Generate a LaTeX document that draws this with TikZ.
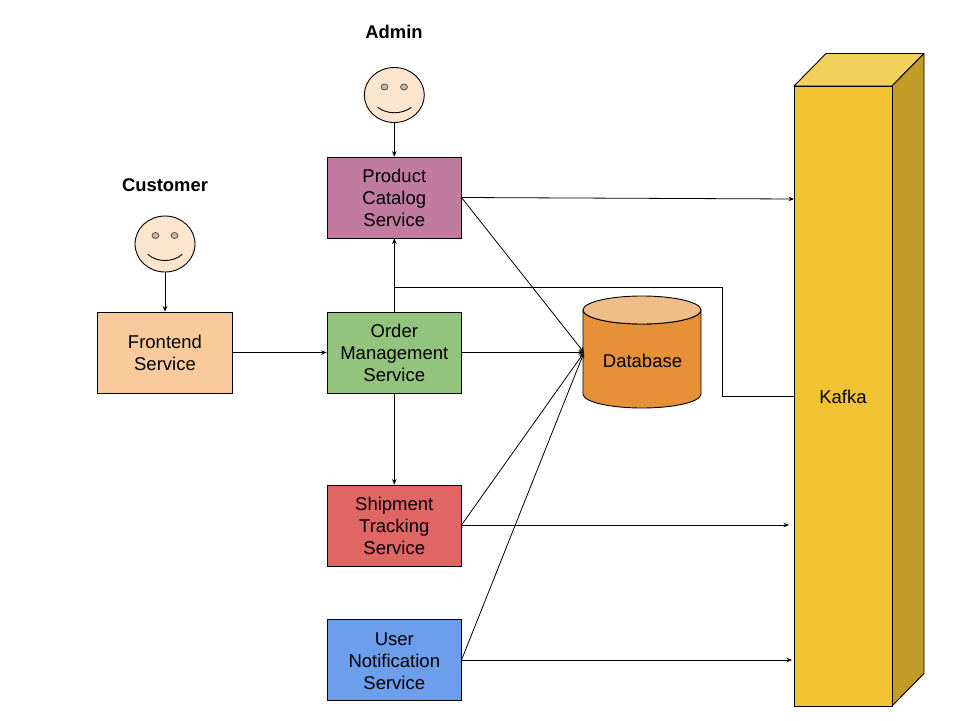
\documentclass[tikz,border=0pt]{standalone}
\usepackage{fontspec}
\setmainfont{Liberation Sans}
\usetikzlibrary{arrows.meta,shapes.geometric,calc}
\definecolor{cFront}{HTML}{F9CB9C}
\definecolor{cOrder}{HTML}{93C47D}
\definecolor{cProd}{HTML}{C27BA0}
\definecolor{cShip}{HTML}{E06666}
\definecolor{cUser}{HTML}{6D9EEB}
\definecolor{cKafka}{HTML}{F1C232}
\definecolor{cKafkaTop}{HTML}{F3D05C}
\definecolor{cKafkaSide}{HTML}{C19B28}
\definecolor{cDb}{HTML}{E69138}
\definecolor{cDbTop}{HTML}{EEBD88}
\definecolor{cFace}{HTML}{FCE5CD}
\definecolor{cEye}{HTML}{C9B7A4}
\tikzset{
  x=1pt,y=-1pt,
  svc/.style={draw=black,line width=0.8pt,minimum width=134.5pt,minimum height=81pt,inner sep=0pt},
  svctext/.style={inner sep=0pt,align=center,font=\fontsize{18.5}{22}\selectfont},
  face/.style={draw=black,fill=cFace,line width=0.9pt,shape=ellipse,inner sep=0pt,minimum width=60pt,minimum height=55pt},
  eye/.style={draw=black!80,fill=cEye,line width=0.6pt,shape=ellipse,minimum width=7pt,minimum height=6pt,inner sep=0pt},
  smile/.style={draw=black,line width=0.9pt,line cap=round},
  actor/.style={font=\fontsize{18.4}{22}\selectfont\bfseries},
  solid3d/.style={draw=black,line width=0.9pt,line join=round},
  conn/.style={draw=black,line width=0.8pt,-{Stealth[length=5.5pt,width=4.5pt]}},
  plainconn/.style={draw=black,line width=0.8pt},
}
\begin{document}
\begin{tikzpicture}
\useasboundingbox (0,0) rectangle (960,720);
\fill[white] (0,0) rectangle (960,720);

% Kafka block
\draw[solid3d,fill=cKafkaTop] (794,86) -- (826,53.5) -- (924,53.5) -- (892,86) -- cycle;
\draw[solid3d,fill=cKafkaSide] (892,86) -- (924,53.5) -- (924,673.5) -- (892,706) -- cycle;
\node[draw=black,line width=0.9pt,fill=cKafka,minimum width=98pt,minimum height=620pt,inner sep=0pt] (kafka) at (843,396) {};
\node[svctext] (kafkatext) at (843,397) {Kafka};

% Database cylinder
\path[solid3d,fill=cDb,draw] (583,310) -- (583,394) arc[start angle=180,end angle=360,x radius=59pt,y radius=14pt] -- (701,310) arc[start angle=0,end angle=-180,x radius=59pt,y radius=14pt] -- cycle;
\node[draw=black,line width=0.9pt,fill=cDbTop,shape=ellipse,inner sep=0pt,minimum width=118pt,minimum height=28pt] (dbtop) at (642,310) {};
\node[svctext] (dblabel) at (642.5,360.5) {Database};
\coordinate (dbin) at (584,352.5);

% Services
\node[svc,fill=cFront] (front) at (165,352.5) {};
\node[svctext] (fronttext) at (165,353) {Frontend\\Service};
\node[svc,fill=cOrder] (order) at (394.3,352.5) {};
\node[svctext] (ordertext) at (394.3,352.5) {Order\\Management\\Service};
\node[svc,fill=cProd] (prod) at (394.3,197.5) {};
\node[svctext] (prodtext) at (394.3,197.5) {Product\\Catalog\\Service};
\node[svc,fill=cShip] (ship) at (394.3,525.5) {};
\node[svctext] (shiptext) at (394.3,525.5) {Shipment\\Tracking\\Service};
\node[svc,fill=cUser] (user) at (394.3,659.5) {};
\node[svctext] (usertext) at (394.3,661.5) {User\\Notification\\Service};

% Actors
\node[face] (admin) at (394.3,95) {};
\node[eye] (ae1) at (384.5,87) {};
\node[eye] (ae2) at (404,87) {};
\draw[smile] (378,107.5) .. controls (387,114.5) and (402,114.5) .. (411,107.5);
\node[actor] (adminlabel) at (394,32) {Admin};

\node[face,minimum height=56pt] (cust) at (165,244) {};
\node[eye] (ce1) at (155.5,235.5) {};
\node[eye] (ce2) at (174.5,235.5) {};
\draw[smile] (148,254.5) .. controls (157,262.5) and (173,262.5) .. (182,254.5);
\node[actor] (custlabel) at (165,185) {Customer};

% Helper anchors
\coordinate (prodE) at (461.5,197.5);
\coordinate (shipE) at (461.5,525);
\coordinate (userE) at (461.5,660);
\coordinate (kP) at (794,199);
\coordinate (kS) at (789,525);
\coordinate (kU) at (792,660);
\coordinate (bus) at (394.3,287.5);
\coordinate (busR) at (722,287.5);
\coordinate (busB) at (722,396.5);

% Connectors
\draw[conn] (admin.south) -- (prod.north);
\draw[conn] (cust.south) -- (front.north);
\draw[conn] (front.east) -- (order.west);
\draw[conn] (order.north) -- (prod.south);
\draw[conn] (order.south) -- (ship.north);
\draw[conn] (order.east) -- (dbin);
\draw[conn] (prodE) -- (kP);
\draw[conn] (prodE) -- (dbin);
\draw[conn] (shipE) -- (dbin);
\draw[conn] (shipE) -- (kS);
\draw[conn] (userE) -- (dbin);
\draw[conn] (userE) -- (kU);
\draw[plainconn] (kafka.west |- busB) -- (busB) -- (busR) -- (bus);
\end{tikzpicture}
\end{document}
